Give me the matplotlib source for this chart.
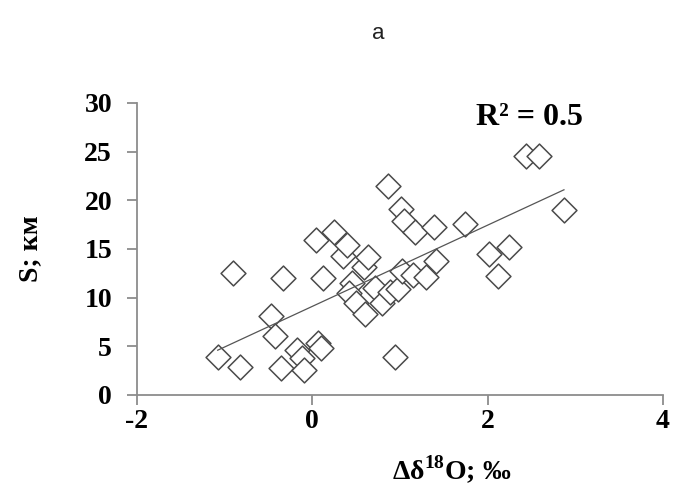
import numpy as np
from matplotlib import pyplot as plt

# delta 18O anomaly (permil) vs distance S (km)
d18o = [-1.08, -0.82, -0.90, -0.47, -0.43, -0.36, -0.33, -0.17, -0.12, -0.09,
        0.06, 0.10, 0.04, 0.12, 0.25, 0.35, 0.40, 0.45, 0.42, 0.50,
        0.60, 0.59, 0.63, 0.72, 0.80, 0.86, 0.88, 0.94, 0.98, 1.02,
        1.01, 1.05, 1.15, 1.17, 1.30, 1.39, 1.41, 1.74, 2.02, 2.12,
        2.24, 2.44, 2.59, 2.87]
s_km = [3.9, 2.9, 12.5, 8.1, 6.1, 2.8, 12.0, 4.6, 3.8, 2.6,
        5.3, 4.8, 15.9, 12.0, 16.7, 14.3, 15.4, 11.5, 10.5, 9.4,
        8.3, 13.1, 14.2, 11.0, 9.5, 21.5, 10.6, 3.9, 10.9, 12.7,
        19.1, 17.9, 12.3, 16.7, 12.1, 17.3, 13.8, 17.6, 14.5, 12.2,
        15.2, 24.6, 24.6, 19.0]

xticks = [-2, 0, 2, 4]
yticks = [0, 5, 10, 15, 20, 25, 30]

serif = "Liberation Serif"
grey = "#8c8c8c"

plt.rcParams["mathtext.fontset"] = "custom"
plt.rcParams["mathtext.bf"] = "Liberation Serif:bold"
plt.rcParams["mathtext.rm"] = "Liberation Serif"

fig = plt.figure(figsize=(6.76, 4.93), dpi=100)
ax = fig.add_axes([0.2027, 0.1988, 0.7781, 0.5923])

ax.scatter(d18o, s_km, marker="D", s=160, facecolors="white",
           edgecolors="#4a4a4a", linewidths=1.1, zorder=3)

# linear trend line
k, b = np.polyfit(d18o, s_km, 1)
xs = np.array([min(d18o), max(d18o)])
ax.plot(xs, k * xs + b, color="#555555", lw=0.9, zorder=4)

ax.set_xlim(-2, 4)
ax.set_ylim(0, 30)
ax.set_xticks(xticks)
ax.set_yticks(yticks)
ax.set_xticklabels([str(t) for t in xticks], fontfamily=serif,
                   fontweight="bold", fontsize=20)
ax.set_yticklabels([str(t) for t in yticks], fontfamily=serif,
                   fontweight="bold", fontsize=20)

for side in ["top", "right"]:
    ax.spines[side].set_visible(False)
for side in ["left", "bottom"]:
    ax.spines[side].set_color(grey)
    ax.spines[side].set_linewidth(1.3)
ax.tick_params(colors=grey, labelcolor="black", length=7, width=1.3)
ax.tick_params(axis="x", pad=3)
ax.tick_params(axis="y", pad=11)

ax.set_xlabel("Δδ$^{\\mathbf{18}}$O; ‰", fontfamily=serif, fontweight="bold",
              fontsize=20)
ax.xaxis.set_label_coords(0.599, -0.257)
ax.xaxis.label.set_va("center")
ax.set_ylabel("S; км", fontfamily=serif, fontweight="bold", fontsize=20)
ax.yaxis.set_label_coords(-0.203, 0.5)
ax.yaxis.label.set_va("center")

ax.text(2.48, 28.5, "R² = 0.5", fontfamily=serif, fontweight="bold",
        fontsize=23, ha="center", va="center")

fig.text(0.559, 0.933, "a", fontsize=16, ha="center", va="center",
         fontfamily="Liberation Sans", color="#222222")

plt.savefig("out.png", dpi=100)
